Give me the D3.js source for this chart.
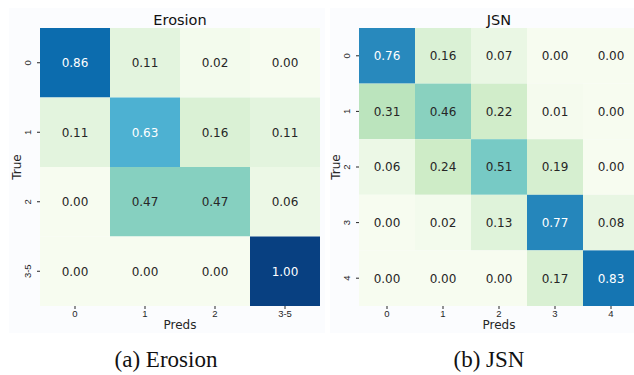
<!DOCTYPE html>
<html>
<head>
<meta charset="utf-8">
<script src="https://cdn.jsdelivr.net/npm/d3@7"></script>
<style>
  body { margin: 0; background: #fff; }
  svg { display: block; font-family: "DejaVu Sans", sans-serif; }
  .tick text { fill: #262626; }
  .domain { display: none; }
</style>
</head>
<body>
<svg id="chart" width="634" height="375"></svg>
<script>
// data
const erosionLabels = ['0', '1', '2', '3-5']
const erosionRows = [
  [0.86, 0.11, 0.02, 0.00],
  [0.11, 0.63, 0.16, 0.11],
  [0.00, 0.47, 0.47, 0.06],
  [0.00, 0.00, 0.00, 1.00]
]
const jsnLabels = ['0', '1', '2', '3', '4']
const jsnRows = [
  [0.76, 0.16, 0.07, 0.00, 0.00],
  [0.31, 0.46, 0.22, 0.01, 0.00],
  [0.06, 0.24, 0.51, 0.19, 0.00],
  [0.00, 0.02, 0.13, 0.77, 0.08],
  [0.00, 0.00, 0.00, 0.17, 0.83]
]

const svg = d3.select('#chart')

// matplotlib GnBu is linear between the 9 brewer stops
const gnbu = d3.schemeGnBu[9]
const color = d3.scaleLinear()
  .domain(d3.range(9).map(i => i / 8))
  .range(gnbu)
  .clamp(true)

const textColor = v => {
  const c = d3.rgb(color(v))
  const lum = [c.r, c.g, c.b].map(x => {
    x /= 255
    return x <= 0.03928 ? x / 12.92 : Math.pow((x + 0.055) / 1.055, 2.4)
  })
  const l = 0.2126 * lum[0] + 0.7152 * lum[1] + 0.0722 * lum[2]
  return l > 0.408 ? '#262626' : '#ffffff'
}

const drawPanel = (opt) => {
  const { labels, rows, title, left, right, bgLeft, bgRight, caption } = opt
  const top = 28, bottom = 306

  svg.append('rect')
    .attr('x', bgLeft).attr('y', 8)
    .attr('width', bgRight - bgLeft).attr('height', 325)
    .attr('fill', '#fbfcfe')

  const x = d3.scaleBand().domain(labels).range([left, right])
  const y = d3.scaleBand().domain(labels).range([top, bottom])

  const cells = []
  rows.forEach((r, i) => r.forEach((v, j) => cells.push({ row: labels[i], col: labels[j], v })))

  const cell = svg.append('g')
    .selectAll('g.cell')
    .data(cells)
    .enter()
    .append('g')
    .attr('class', 'cell')

  cell.append('rect')
    .attr('x', d => x(d.col))
    .attr('y', d => y(d.row))
    .attr('width', x.bandwidth())
    .attr('height', y.bandwidth())
    .attr('fill', d => color(d.v))

  cell.append('text')
    .attr('x', d => x(d.col) + x.bandwidth() / 2)
    .attr('y', d => y(d.row) + y.bandwidth() / 2)
    .attr('dy', '0.36em')
    .attr('text-anchor', 'middle')
    .style('font-size', '12px')
    .attr('fill', d => textColor(d.v))
    .text(d => d.v.toFixed(2))

  svg.append('g')
    .attr('transform', `translate(0,${bottom})`)
    .call(d3.axisBottom(x).tickSize(3).tickPadding(1))
    .call(a => a.selectAll('line').attr('stroke', '#262626'))
    .call(a => a.selectAll('text').style('font-size', '9.5px'))

  svg.append('g')
    .attr('transform', `translate(${left},0)`)
    .call(d3.axisLeft(y).tickSize(3).tickPadding(2))
    .call(a => a.selectAll('line').attr('stroke', '#262626'))
    .call(a => a.selectAll('text')
      .style('font-size', '9.5px')
      .attr('text-anchor', 'middle')
      .attr('dy', null)
      .attr('x', null)
      .attr('transform', 'translate(-9,0) rotate(-90)'))

  const cx = (left + right) / 2
  svg.append('text')
    .attr('x', cx).attr('y', 25)
    .attr('text-anchor', 'middle')
    .style('font-size', '14.5px')
    .attr('fill', '#111')
    .text(title)

  svg.append('text')
    .attr('x', cx).attr('y', 329)
    .attr('text-anchor', 'middle')
    .style('font-size', '12px')
    .attr('fill', '#262626')
    .text('Preds')

  svg.append('text')
    .attr('transform', `translate(${left - 19},${(top + bottom) / 2}) rotate(-90)`)
    .attr('text-anchor', 'middle')
    .style('font-size', '12px')
    .attr('fill', '#262626')
    .text('True')

  svg.append('text')
    .attr('x', caption.x).attr('y', 367)
    .attr('text-anchor', 'middle')
    .style('font-family', '"Liberation Serif", serif')
    .style('font-size', '23px')
    .attr('fill', '#111')
    .text(caption.text)
}

drawPanel({
  labels: erosionLabels, rows: erosionRows, title: 'Erosion',
  left: 40, right: 320, bgLeft: 9, bgRight: 325,
  caption: { x: 166, text: '(a) Erosion' }
})
drawPanel({
  labels: jsnLabels, rows: jsnRows, title: 'JSN',
  left: 359, right: 639, bgLeft: 330, bgRight: 634,
  caption: { x: 489, text: '(b) JSN' }
})
</script>
</body>
</html>
